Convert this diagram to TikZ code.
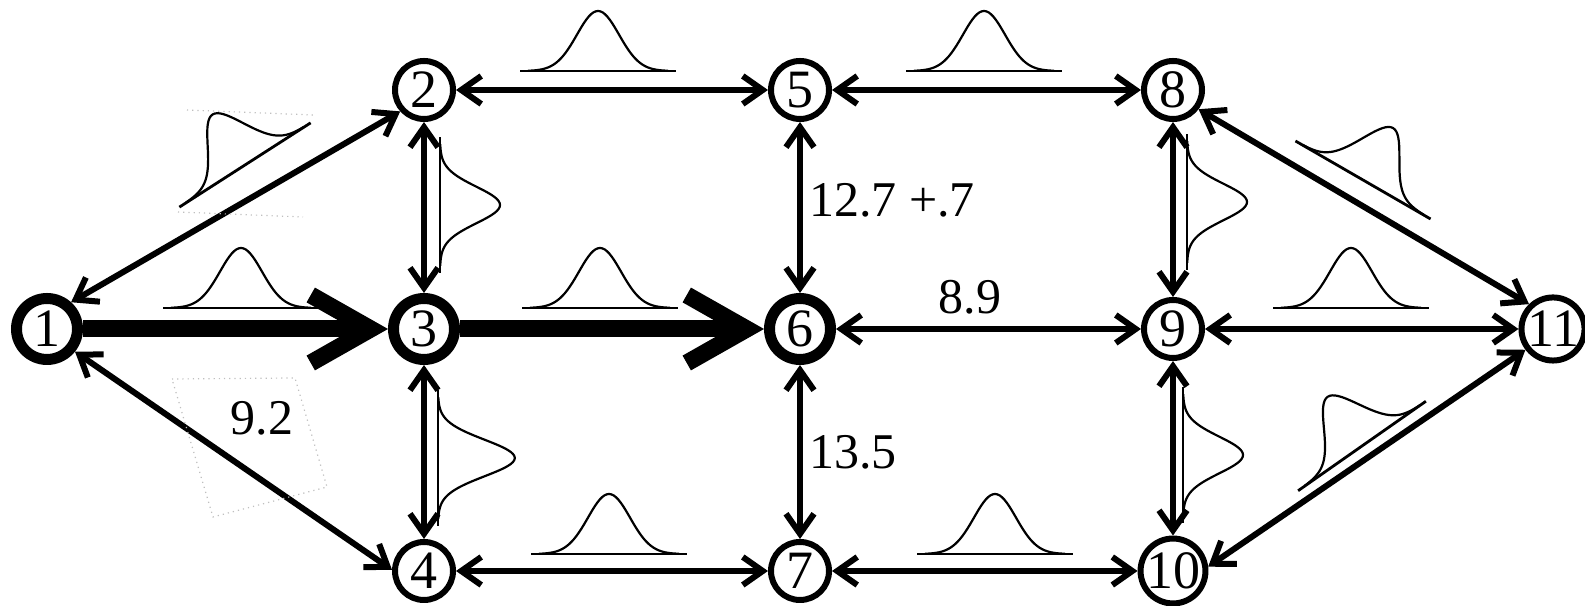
\documentclass[tikz,border=0pt]{standalone}
\usepackage{fontspec}
\setmainfont{Liberation Serif}
\usetikzlibrary{arrows.meta, positioning, calc}
\tikzset{
  >={Straight Barb[length=5pt,width=7pt]},
  vtx/.style={circle, draw, line width=1.5pt, minimum size=14.5pt, inner sep=0pt,
              font=\fontsize{13.5}{15}\selectfont},
  vtxb/.style={vtx, line width=2.75pt, minimum size=15.25pt},
  link/.style={<->, line width=1.5pt},
  crit/.style={-{Straight Barb[length=15pt,width=17pt]}, line width=4.25pt},
  lbl/.style={font=\fontsize{12.5}{14}\selectfont, inner sep=1.5pt},
  ghost/.style={draw=black!25, densely dotted, line width=0.3pt},
  bell/.pic={
    \draw[line width=0.7pt] (-78,0) -- (78,0);
    \draw[line width=0.55pt] plot[domain=-70:70, samples=61, smooth] (\x,{-60*exp(-((\x)^2)/882)});
  },
}

\begin{document}
\begin{tikzpicture}[x=0.25pt, y=-0.25pt, on grid]
  \useasboundingbox (0,0) rectangle (1585,606);
  % vertices
  \node[vtxb] (n1) at (47,329) {1};
  \node[vtxb] (n3) [right=94.25pt of n1] {3};
  \node[vtx] (n2) [above=59.75pt of n3] {2};
  \node[vtx] (n4) [below=60.5pt of n3] {4};
  \node[vtxb] (n6) [right=94pt of n3] {6};
  \node[vtx] (n5) [above=59.75pt of n6] {5};
  \node[vtx] (n7) [below=60.5pt of n6] {7};
  \node[vtx] (n9) [right=93.25pt of n6] {9};
  \node[vtx] (n8) [above=59.75pt of n9] {8};
  \node[vtx] (n10) [below=60.5pt of n9] {10};
  \node[vtx] (n11) [right=95pt of n9] {11};

  % critical path
  \draw[crit] (n1) -- (n3);
  \draw[crit] (n3) -- (n6);

  % links
  \draw[link] (n1.48) -- (n2.222);
  \draw[link] (n1.-39) -- (n4.178);
  \draw[link] (n2) -- (n5);
  \draw[link] (n5) -- (n8);
  \draw[link] (n4) -- (n7);
  \draw[link] (n7) -- (n10);
  \draw[link] (n2) -- (n3);
  \draw[link] (n3) -- (n4);
  \draw[link] (n5) -- node[right, pos=.46, lbl] {12.7 +.7} (n6);
  \draw[link] (n6) -- node[right, midway, lbl] {13.5} (n7);
  \draw[link] (n6) -- node[above=1.5pt, pos=.44, lbl] {8.9} (n9);
  \draw[link] (n8) -- (n9);
  \draw[link] (n9) -- (n10);
  \draw[link] (n9) -- (n11);
  \draw[link] (n8.-37) -- (n11.134);
  \draw[link] (n10.7) -- (n11.217);

  \node[lbl] (w14) at (262,418) {9.2};
  \draw[ghost] (172,379) -- (295,378) -- (327,487) -- (213,517) -- cycle;
  \draw[ghost] (187,110) -- (313,115);
  \draw[ghost] (178,212) -- (303,217);

  % distributions
  \pic at (241,308) {bell};
  \pic at (600,308) {bell};
  \pic at (598,71) {bell};
  \pic at (984,71) {bell};
  \pic at (1351,308) {bell};
  \pic at (609,554) {bell};
  \pic at (995,554) {bell};
  \pic[rotate=-90, xscale=.87] at (440,205) {bell};
  \pic[rotate=-90, xscale=.87, yscale=1.28] at (438,458) {bell};
  \pic[rotate=-90, xscale=.87] at (1187,202) {bell};
  \pic[rotate=-90, xscale=.87] at (1183,455) {bell};
  \pic[rotate=32.7] at (245,165) {bell};
  \pic[rotate=-30] at (1363,180) {bell};
  \pic[rotate=35] at (1362,446) {bell};
\end{tikzpicture}
\end{document}
